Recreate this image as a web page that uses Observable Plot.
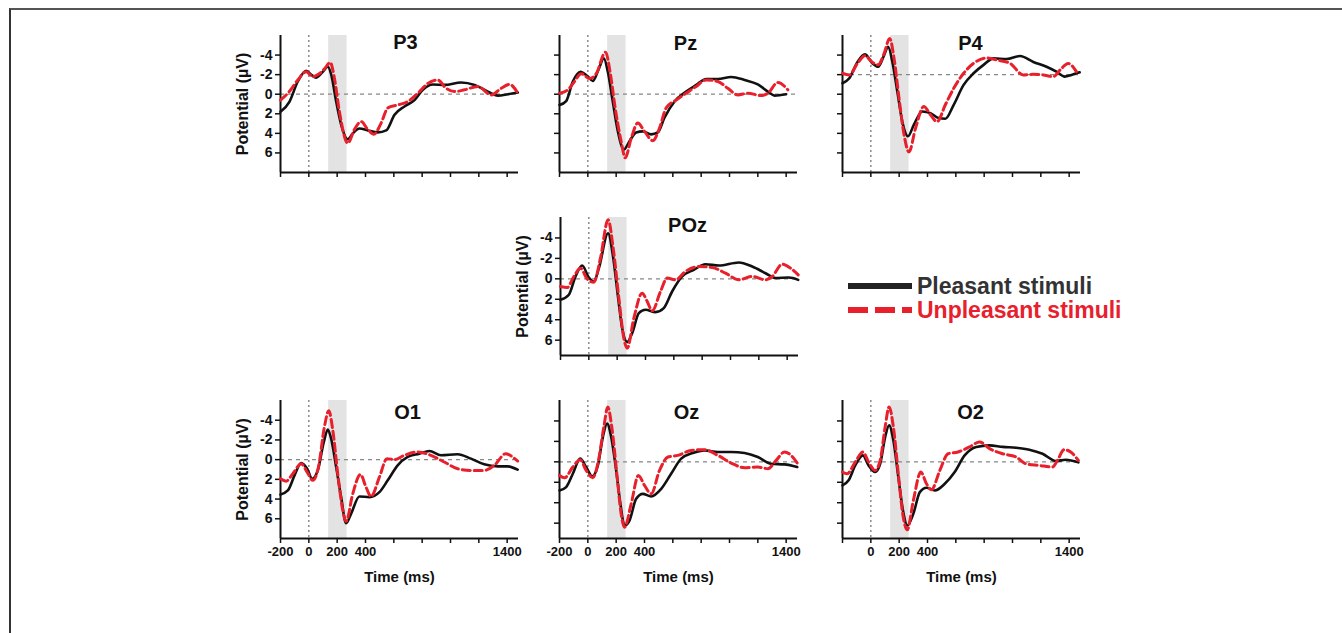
<!DOCTYPE html>
<html>
<head>
<meta charset="utf-8">
<script src="https://cdn.jsdelivr.net/npm/d3@7"></script>
<script src="https://cdn.jsdelivr.net/npm/@observablehq/plot@0.6"></script>
<style>
  html, body { margin: 0; padding: 0; background: #fff; }
  #fig { position: relative; width: 1342px; height: 633px; overflow: hidden; background: #fff;
         font-family: "Liberation Sans", Arial, sans-serif; }
  #frame { position: absolute; left: 9px; top: 8px; right: -5px; bottom: -5px;
           border-top: 2px solid #555; border-left: 2px solid #333; }
  .panel { position: absolute; }
  #legend { position: absolute; left: 0; top: 0; }
</style>
</head>
<body>
<div id="fig"><div id="frame"></div></div>
<script>
// ---------- data (time in ms, potential in µV; negative plotted upward) ----------
const panelNames = ["P3", "Pz", "P4", "POz", "O1", "Oz", "O2"];
const seriesNames = ["Pleasant stimuli", "Unpleasant stimuli"];

const P3_pleasant = [[-200,1.8],[-136,0.75],[-78,-1.3],[-19,-2.4],[16,-2.0],[52,-1.7],[99,-2.3],[134,-2.8],[158,-2.0],[193,0.75],[228,3.1],[275,4.6],[311,4.0],[358,3.5],[416,3.7],[487,3.9],[546,3.7],[605,2.1],[675,1.25],[746,0.6],[805,-0.45],[875,-1.0],[958,-0.95],[1075,-1.2],[1170,-0.95],[1264,-0.27],[1334,0.14],[1405,0],[1475,-0.17]];
const P3_unpleasant = [[-200,0.6],[-136,-0.3],[-78,-1.45],[-19,-2.3],[28,-1.8],[64,-2.0],[111,-2.6],[151,-3.25],[181,-1.6],[216,1.8],[275,5.0],[322,3.6],[369,2.8],[416,3.6],[459,4.1],[510,2.95],[558,1.4],[628,1.1],[699,0.75],[769,-0.1],[840,-1.1],[911,-1.45],[969,-0.6],[1028,-0.27],[1099,-0.45],[1193,-0.8],[1287,0.07],[1358,-0.6],[1417,-1.0],[1475,-0.1]];

const Pz_pleasant = [[-200,1.1],[-153,0.7],[-106,-1.3],[-52,-2.3],[0,-1.8],[35,-1.35],[75,-2.5],[113,-3.66],[141,-2.3],[176,0.75],[212,3.8],[254,5.66],[294,4.8],[341,3.9],[388,3.8],[447,4.1],[494,3.9],[541,2.4],[612,0.75],[694,-0.27],[765,-0.95],[835,-1.56],[918,-1.56],[1012,-1.76],[1106,-1.46],[1200,-1.0],[1271,-0.27],[1318,0.14],[1400,0.0]];
const Pz_unpleasant = [[-200,-0.1],[-141,-0.45],[-94,-1.3],[-47,-2.1],[12,-1.6],[59,-2.1],[125,-4.3],[160,-2.0],[193,1.4],[235,4.8],[264,6.5],[306,4.5],[353,2.95],[400,3.8],[459,4.75],[506,3.45],[553,1.4],[623,0.6],[694,-0.1],[765,-0.8],[835,-1.46],[918,-1.3],[988,-0.6],[1059,0.07],[1129,-0.1],[1224,0.14],[1271,-0.1],[1341,-1.2],[1412,-0.45]];

const P4_pleasant = [[-200,0.88],[-152,0.37],[-94,-1.3],[-42,-2.07],[12,-1.15],[51,-0.8],[94,-2.0],[122,-2.85],[152,-1.3],[187,1.73],[222,4.8],[262,6.3],[304,5.1],[363,3.76],[421,3.93],[480,4.44],[526,4.5],[585,3.08],[655,1.05],[725,-0.14],[796,-1.0],[866,-1.66],[959,-1.6],[1053,-1.9],[1147,-1.3],[1240,-0.8],[1310,-0.3],[1369,0.2],[1416,0.03],[1474,-0.24]];
const P4_unpleasant = [[-200,-0.14],[-152,0.03],[-94,-1.15],[-42,-1.93],[12,-1.25],[51,-1.0],[94,-2.17],[133,-3.7],[164,-1.66],[199,2.4],[234,6.1],[269,7.9],[316,5.45],[374,3.25],[421,4.1],[468,4.8],[526,3.08],[585,1.4],[655,-0.14],[725,-1.15],[819,-1.7],[889,-1.5],[983,-1.15],[1076,0.03],[1147,-0.03],[1217,0.03],[1287,0.2],[1346,-0.64],[1392,-1.15],[1451,-0.3]];

const POz_pleasant = [[-200,2.05],[-141,1.56],[-94,-0.23],[-47,-1.3],[0,-0.13],[35,0.26],[71,-1.04],[136,-4.46],[169,-2.35],[207,1.89],[235,4.82],[271,6.19],[306,5.31],[353,3.36],[400,3.03],[471,3.26],[529,2.87],[588,1.24],[659,-0.23],[741,-0.88],[823,-1.43],[918,-1.3],[1059,-1.6],[1153,-1.2],[1247,-0.55],[1318,-0.07],[1412,-0.13],[1478,0.1]];
const POz_unpleasant = [[-200,0.75],[-153,0.85],[-106,-0.23],[-59,-1.04],[-12,0],[35,0.33],[82,-2.02],[136,-5.77],[172,-3.0],[212,1.89],[247,5.8],[271,6.78],[318,3.84],[376,1.4],[412,2.21],[447,3.13],[506,1.24],[553,-0.07],[612,0.1],[682,-0.72],[776,-1.2],[871,-1.11],[965,-0.55],[1059,0.1],[1153,-0.23],[1247,0.1],[1294,-0.23],[1365,-1.43],[1424,-1.04],[1478,-0.39]];

const O1_pleasant = [[-200,3.54],[-148,3.13],[-101,1.6],[-54,0.34],[-12,0.92],[23,1.94],[63,1.09],[106,-1.8],[134,-3.06],[157,-2.14],[193,0.75],[228,3.8],[263,6.46],[298,5.5],[357,3.74],[428,3.8],[498,3.3],[557,2.1],[627,0.58],[698,-0.27],[780,-0.6],[851,-0.88],[933,-0.44],[1050,-0.54],[1144,-0.1],[1238,0.48],[1333,0.68],[1403,0.68],[1474,1.02]];
const O1_unpleasant = [[-200,1.94],[-160,2.18],[-113,1.43],[-54,0.41],[-12,1.26],[28,2.1],[68,0.75],[110,-3.33],[141,-4.97],[169,-3.0],[204,1.43],[240,5.17],[263,6.26],[310,3.47],[364,1.5],[404,2.8],[439,3.74],[498,1.77],[552,-0.1],[604,0],[674,-0.44],[768,-0.78],[862,-0.44],[956,0.24],[1050,0.92],[1144,1.09],[1238,1.09],[1309,0.58],[1391,-0.61],[1438,-0.27],[1474,0.14]];

const Oz_pleasant = [[-200,2.8],[-153,2.47],[-106,1.17],[-54,-0.31],[-12,0.51],[31,1.42],[71,0.35],[106,-2.42],[136,-3.74],[165,-2.42],[200,0.84],[230,4.11],[259,6.23],[294,5.75],[341,3.62],[388,3.13],[447,3.39],[518,2.64],[588,1.17],[659,-0.31],[741,-0.86],[823,-1.12],[918,-0.96],[1012,-0.96],[1106,-0.86],[1200,-0.47],[1294,0.19],[1388,0.25],[1478,0.51]];
const Oz_unpleasant = [[-200,1.33],[-164,1.56],[-106,0.51],[-54,-0.21],[-12,0.84],[35,1.56],[75,-0.14],[113,-3.41],[141,-5.37],[169,-3.41],[207,1.49],[235,5.08],[259,6.39],[306,4.11],[357,1.33],[400,2.31],[447,3.13],[506,0.84],[565,-0.47],[635,-0.63],[729,-1.12],[823,-1.19],[918,-0.63],[1012,0.12],[1106,0.58],[1200,0.51],[1271,0.67],[1329,-0.14],[1388,-0.96],[1435,-0.63],[1478,0.12]];

const O2_pleasant = [[-200,2.31],[-157,1.81],[-110,0.35],[-56,-0.63],[-16,0.35],[30,1.0],[66,0.19],[101,-2.42],[129,-3.57],[159,-2.1],[194,1.49],[229,4.92],[257,6.23],[300,5.08],[346,2.96],[393,2.54],[452,2.8],[522,2.15],[592,1.0],[662,-0.63],[744,-1.46],[838,-1.61],[931,-1.46],[1025,-1.38],[1119,-1.19],[1212,-0.79],[1306,-0.08],[1376,-0.21],[1465,0.05]];
const O2_unpleasant = [[-200,1.0],[-168,1.17],[-110,0.02],[-56,-0.96],[-16,0.02],[30,0.84],[66,-0.14],[101,-3.41],[129,-5.37],[159,-3.41],[194,1.17],[225,5.08],[257,6.65],[300,3.78],[353,1.0],[393,2.15],[428,2.73],[487,0.84],[545,-0.79],[615,-0.96],[697,-1.46],[768,-1.94],[838,-1.29],[931,-0.79],[1025,-0.47],[1095,0.19],[1189,0.35],[1282,0.51],[1317,-0.14],[1364,-1.19],[1411,-0.96],[1465,-0.14]];

const panelPleasant = [P3_pleasant, Pz_pleasant, P4_pleasant, POz_pleasant, O1_pleasant, Oz_pleasant, O2_pleasant];
const panelUnpleasant = [P3_unpleasant, Pz_unpleasant, P4_unpleasant, POz_unpleasant, O1_unpleasant, Oz_unpleasant, O2_unpleasant];

const xTicks = [-200, 0, 200, 400, 600, 800, 1000, 1200, 1400];
const xTickLabels = [[], [], [], [], [-200, 0, 200, 400, 1400], [-200, 0, 200, 400, 1400], [0, 200, 400, 1400]];
const yTicks = [[-4,-2,0,2,4,6], [-4,-2,0,2,4,6], [-2,0,2,4,6,8], [-4,-2,0,2,4,6], [-4,-2,0,2,4,6], [-4,-2,0,2,4,6], [-4,-2,0,2,4,6]];
const yTickLabelled = [true, false, false, true, true, false, false];
const timeTitle = [false, false, false, false, true, true, true];
const shadeWindow = [{start: 140, end: 270}];
const xDomain = [-200, 1480];
const yDomains = [[-6,8], [-6,8], [-4,10], [-6,7.5], [-6,8], [-6,7.5], [-6,7.5]];

// ---------- layout ----------
const axisLeft = [280, 559, 842, 560, 280, 559, 842];
const axisTop = [35, 35, 35, 217, 400, 400, 400];
const axisHeight = [137, 137, 137, 138, 138, 138, 138];
const axisWidth = 238;
const titleDx = [6, 7, 9, 8, 8, 8, 9];
const titleDy = [7, 8, 8, 8, 12, 12, 12];
const RED = "#e8202c";

const fig = document.getElementById("fig");
const mL = 70, mR = 15, mT = 10, mB = 55;

panelNames.forEach((name, i) => {
  const rows = arr => arr.map(([t, v]) => ({t, v}));
  const pleasant = rows(panelPleasant[i]);
  const unpleasant = rows(panelUnpleasant[i]);
  const labels = xTickLabels[i];
  const yd = yDomains[i];
  const marks = [
    Plot.rect(shadeWindow, {x1: "start", x2: "end", fill: "#e3e3e3"}),
    Plot.ruleX([0], {stroke: "#777", strokeWidth: 1.3, strokeDasharray: "2,3"}),
    Plot.ruleY([0], {stroke: "#888", strokeWidth: 1.3, strokeDasharray: "4,4"}),
    Plot.axisY({ticks: yTicks[i], tickSize: 5, tickPadding: 3, strokeWidth: 1.5,
      tickFormat: d => yTickLabelled[i] ? String(d) : "", label: null, fontSize: 14}),
    Plot.axisX({ticks: xTicks, tickSize: 5, tickPadding: 3, strokeWidth: 1.5,
      tickFormat: d => labels.includes(d) ? String(d) : "", label: null, fontSize: 13}),
    Plot.ruleX([xDomain[0]], {stroke: "#111", strokeWidth: 2}),
    Plot.ruleY([yd[1]], {stroke: "#111", strokeWidth: 2}),
    Plot.line(pleasant, {x: "t", y: "v", curve: "monotone-x", stroke: "#111", strokeWidth: 2.6}),
    Plot.line(unpleasant, {x: "t", y: "v", curve: "monotone-x", stroke: RED, strokeWidth: 3, strokeDasharray: "8,4"}),
    Plot.text([name], {text: d => d, frameAnchor: "top", dx: titleDx[i], dy: titleDy[i], lineAnchor: "middle",
      fontSize: 20, fontWeight: "bold", fill: "#111"})
  ];
  if (yTickLabelled[i]) {
    marks.push(Plot.text(["Potential (\u00b5V)"], {text: d => d, frameAnchor: "left", textAnchor: "middle",
      lineAnchor: "middle", rotate: -90, dx: -38, fontSize: 16, fontWeight: "bold", fill: "#111"}));
  }
  if (timeTitle[i]) {
    marks.push(Plot.text(["Time (ms)"], {text: d => d, frameAnchor: "bottom", dy: 39, lineAnchor: "middle",
      fontSize: 15, fontWeight: "bold", fill: "#111"}));
  }
  const svg = Plot.plot({
    width: mL + axisWidth + mR,
    height: mT + axisHeight[i] + mB,
    marginLeft: mL, marginRight: mR, marginTop: mT, marginBottom: mB,
    x: {domain: xDomain, label: null},
    y: {domain: yd, reverse: true, label: null},
    style: {fontFamily: "'Liberation Sans', Arial, sans-serif", fontWeight: "bold", fontSize: "13px",
      color: "#111", background: "transparent", overflow: "visible", maxWidth: "none"},
    marks
  });
  svg.classList.add("panel");
  svg.style.left = (axisLeft[i] - mL) + "px";
  svg.style.top = (axisTop[i] - mT) + "px";
  fig.appendChild(svg);
});

// ---------- legend ----------
const NS = "http://www.w3.org/2000/svg";
const leg = document.createElementNS(NS, "svg");
leg.setAttribute("id", "legend");
leg.setAttribute("width", 1342);
leg.setAttribute("height", 633);
leg.style.position = "absolute";
leg.style.left = "0px"; leg.style.top = "0px";
const legendRows = [
  {label: seriesNames[0], y: 286, stroke: "#222", dash: null, fill: "#333"},
  {label: seriesNames[1], y: 310, stroke: RED, dash: "20,7", fill: RED}
];
legendRows.forEach(r => {
  const ln = document.createElementNS(NS, "line");
  ln.setAttribute("x1", 848); ln.setAttribute("x2", 912);
  ln.setAttribute("y1", r.y); ln.setAttribute("y2", r.y);
  ln.setAttribute("stroke", r.stroke); ln.setAttribute("stroke-width", 6);
  if (r.dash) ln.setAttribute("stroke-dasharray", r.dash);
  leg.appendChild(ln);
  const tx = document.createElementNS(NS, "text");
  tx.setAttribute("x", 917); tx.setAttribute("y", r.y + 8);
  tx.setAttribute("fill", r.fill);
  tx.setAttribute("font-family", "'Liberation Sans', Arial, sans-serif");
  tx.setAttribute("font-weight", "bold");
  tx.setAttribute("font-size", 23);
  tx.textContent = r.label;
  leg.appendChild(tx);
});
fig.appendChild(leg);
</script>
</body>
</html>
